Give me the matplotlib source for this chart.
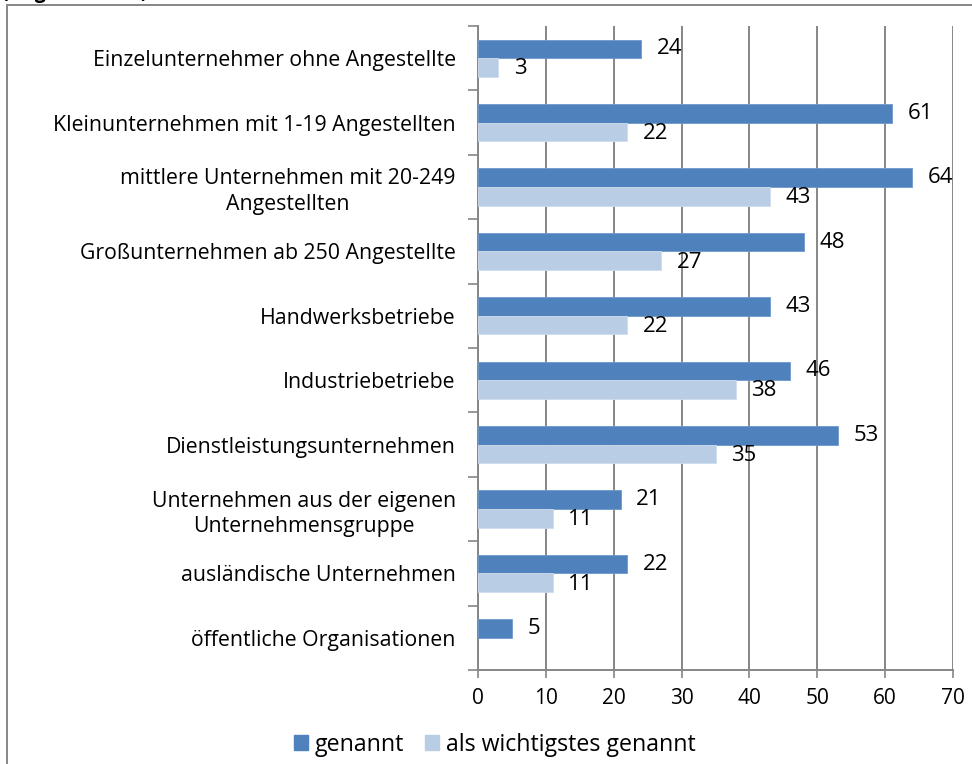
import numpy as np
import matplotlib
matplotlib.use("Agg")
import matplotlib.pyplot as plt
from matplotlib.patches import Rectangle

plt.rcParams['font.family'] = ['Open Sans', 'DejaVu Sans']

categories = [
    "Einzelunternehmer ohne Angestellte",
    "Kleinunternehmen mit 1-19 Angestellten",
    "mittlere Unternehmen mit 20-249\nAngestellten",
    "Großunternehmen ab 250 Angestellte",
    "Handwerksbetriebe",
    "Industriebetriebe",
    "Dienstleistungsunternehmen",
    "Unternehmen aus der eigenen\nUnternehmensgruppe",
    "ausländische Unternehmen",
    "öffentliche Organisationen",
]
genannt = [24, 61, 64, 48, 43, 46, 53, 21, 22, 5]
wichtigst = [3, 22, 43, 27, 22, 38, 35, 11, 11, None]
series_names = ["genannt", "als wichtigstes genannt"]
xticks = [0, 10, 20, 30, 40, 50, 60, 70]

dark = "#4F81BD"
light = "#B9CDE5"
grey = "#868686"

fig = plt.figure(figsize=(9.72, 7.64), dpi=100)
ax = fig.add_axes([478 / 972, 1 - 670 / 764, (953 - 478) / 972, (670 - 26) / 764])

n = len(categories)
y = np.arange(n)
h = 0.29

for i in range(n):
    ax.barh(i - h / 2, genannt[i], height=h, color=dark, edgecolor="#6f98cc", linewidth=0.6, zorder=3)
    ax.text(genannt[i] + 2.3, i - h / 2, str(genannt[i]), va='center', ha='left', fontsize=16, zorder=4)
    if wichtigst[i] is not None:
        ax.barh(i + h / 2, wichtigst[i], height=h, color=light, edgecolor="#cfdcee", linewidth=0.6, zorder=3)
        ax.text(wichtigst[i] + 2.3, i + h / 2 + 0.02, str(wichtigst[i]), va='center', ha='left', fontsize=16, zorder=4)

ax.set_ylim(n - 0.5, -0.5)
ax.set_xlim(0, 70)
ax.set_xticks(xticks)
ax.set_xticklabels([str(v) for v in xticks], fontsize=15)
ax.tick_params(axis='x', direction='out', length=6, width=1.2, color=grey, pad=7)

ax.set_yticks(y)
ax.set_yticklabels(categories, fontsize=15.3, linespacing=1.3, ha='right', multialignment='center')
ax.tick_params(axis='y', length=0, pad=16)
ax.set_yticks(np.arange(n + 1) - 0.5, minor=True)
ax.tick_params(axis='y', which='minor', direction='out', length=7, width=1.2, color=grey)

ax.grid(axis='x', color=grey, linewidth=1.4, zorder=0)
ax.set_axisbelow(True)
for s in ['top', 'right']:
    ax.spines[s].set_visible(False)
for s in ['left', 'bottom']:
    ax.spines[s].set_color(grey)
    ax.spines[s].set_linewidth(1.4)

handles = [Rectangle((0, 0), 1, 1, color=dark), Rectangle((0, 0), 1, 1, color=light)]
fig.legend(handles, series_names, loc='center', bbox_to_anchor=(495 / 972, 1 - 745 / 764),
           ncol=2, frameon=False, fontsize=16.7, handlelength=0.6, handleheight=0.6,
           handletextpad=0.3, columnspacing=0.9)

# outer chart frame
fig.patches.append(Rectangle((7 / 972, -0.1), 1.2, 1 - 5 / 764 + 0.1, transform=fig.transFigure,
                             fill=False, edgecolor=grey, linewidth=1.4))
fig.text(2 / 972, 1 - 3 / 764, "(Angaben in %)", fontsize=14, fontweight='bold', va='bottom', ha='left')

fig.savefig("out.png", dpi=100)
